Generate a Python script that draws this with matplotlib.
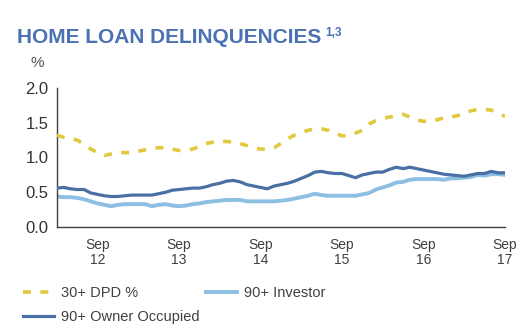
import matplotlib
matplotlib.use("Agg")
import matplotlib.pyplot as plt
import numpy as np

plt.rcParams['font.family'] = ['Liberation Sans', 'DejaVu Sans']

# Monthly observations, Mar 2012 to Sep 2017
months = np.arange(67)  # month index, 0 = Mar 12

dpd_30 = [1.32, 1.29, 1.27, 1.25, 1.19, 1.12, 1.07, 1.03, 1.05, 1.07, 1.07, 1.07,
          1.09, 1.11, 1.13, 1.14, 1.14, 1.12, 1.10, 1.11, 1.12, 1.16, 1.20, 1.22,
          1.23, 1.23, 1.22, 1.20, 1.17, 1.14, 1.12, 1.12, 1.14, 1.20, 1.27, 1.32,
          1.36, 1.39, 1.41, 1.41, 1.39, 1.35, 1.31, 1.32, 1.35, 1.39, 1.48, 1.53,
          1.56, 1.58, 1.60, 1.62, 1.58, 1.54, 1.52, 1.52, 1.54, 1.57, 1.58, 1.60,
          1.63, 1.67, 1.69, 1.69, 1.68, 1.64, 1.59]

owner_90 = [0.56, 0.57, 0.55, 0.54, 0.54, 0.49, 0.47, 0.45, 0.44, 0.44, 0.45, 0.46,
            0.46, 0.46, 0.46, 0.48, 0.50, 0.53, 0.54, 0.55, 0.56, 0.56, 0.58, 0.61,
            0.63, 0.66, 0.67, 0.65, 0.61, 0.59, 0.57, 0.55, 0.59, 0.61, 0.63, 0.66,
            0.70, 0.74, 0.79, 0.80, 0.78, 0.77, 0.77, 0.74, 0.71, 0.75, 0.77, 0.79,
            0.79, 0.83, 0.86, 0.84, 0.86, 0.84, 0.82, 0.80, 0.78, 0.76, 0.75, 0.74,
            0.73, 0.75, 0.77, 0.77, 0.80, 0.78, 0.78]

investor_90 = [0.44, 0.43, 0.43, 0.42, 0.40, 0.37, 0.34, 0.32, 0.30, 0.32, 0.33, 0.33,
               0.33, 0.33, 0.30, 0.32, 0.33, 0.31, 0.30, 0.31, 0.33, 0.34, 0.36, 0.37,
               0.38, 0.39, 0.39, 0.39, 0.37, 0.37, 0.37, 0.37, 0.37, 0.38, 0.39, 0.41,
               0.43, 0.45, 0.48, 0.46, 0.45, 0.45, 0.45, 0.45, 0.45, 0.47, 0.49, 0.54,
               0.57, 0.60, 0.64, 0.65, 0.68, 0.69, 0.69, 0.69, 0.69, 0.68, 0.70, 0.70,
               0.71, 0.72, 0.75, 0.74, 0.76, 0.76, 0.75]

tick_months = [6, 18, 30, 42, 54, 66]
tick_labels = ["Sep\n12", "Sep\n13", "Sep\n14", "Sep\n15", "Sep\n16", "Sep\n17"]
y_ticks = [0.0, 0.5, 1.0, 1.5, 2.0]

YELLOW = "#E2C83C"
DARK_BLUE = "#4A6FA5"
LIGHT_BLUE = "#8DBFE3"
TITLE_BLUE = "#4A72B2"
TEXT = "#404040"

fig = plt.figure(figsize=(5.27, 3.34), dpi=100)
ax = fig.add_axes([0.108, 0.320, 0.850, 0.417])

l_dpd, = ax.plot(months, dpd_30, color=YELLOW, lw=2.6, dashes=(2.2, 2.6),
                 solid_capstyle='butt', dash_capstyle='butt', label="30+ DPD %", zorder=3)
l_inv, = ax.plot(months, investor_90, color=LIGHT_BLUE, lw=2.8,
                 label="90+ Investor", zorder=2)
l_own, = ax.plot(months, owner_90, color=DARK_BLUE, lw=2.3,
                 label="90+ Owner Occupied", zorder=4)

ax.set_xlim(0, 66)
ax.set_ylim(0, 2.0)
ax.set_yticks(y_ticks)
ax.set_yticklabels([f"{v:.1f}" for v in y_ticks], fontsize=12, color="#333333")
ax.set_xticks(tick_months)
ax.set_xticklabels(tick_labels, fontsize=10, color=TEXT, linespacing=1.1)
ax.tick_params(axis='both', length=0)
ax.tick_params(axis='y', pad=6)
ax.tick_params(axis='x', pad=8)

for side in ("top", "right"):
    ax.spines[side].set_visible(False)
for side in ("left", "bottom"):
    ax.spines[side].set_color("#404040")
    ax.spines[side].set_linewidth(1.0)

fig.text(0.032, 0.871, "HOME LOAN DELINQUENCIES", fontsize=15, fontweight='bold',
         color=TITLE_BLUE, ha='left', va='baseline')
fig.text(0.618, 0.893, "1,3", fontsize=8.5, fontweight='bold',
         color=TITLE_BLUE, ha='left', va='baseline')
fig.text(0.057, 0.800, "%", fontsize=11, color="#555555", ha='left', va='baseline')

fig.legend(handles=[l_dpd, l_own, l_inv], ncol=2, loc='upper left',
           bbox_to_anchor=(0.030, 0.165), frameon=False, fontsize=10.5,
           handlelength=2.1, handletextpad=0.5, columnspacing=0.45,
           labelspacing=0.7, borderpad=0, labelcolor=TEXT)

fig.savefig("out.png", dpi=100)
